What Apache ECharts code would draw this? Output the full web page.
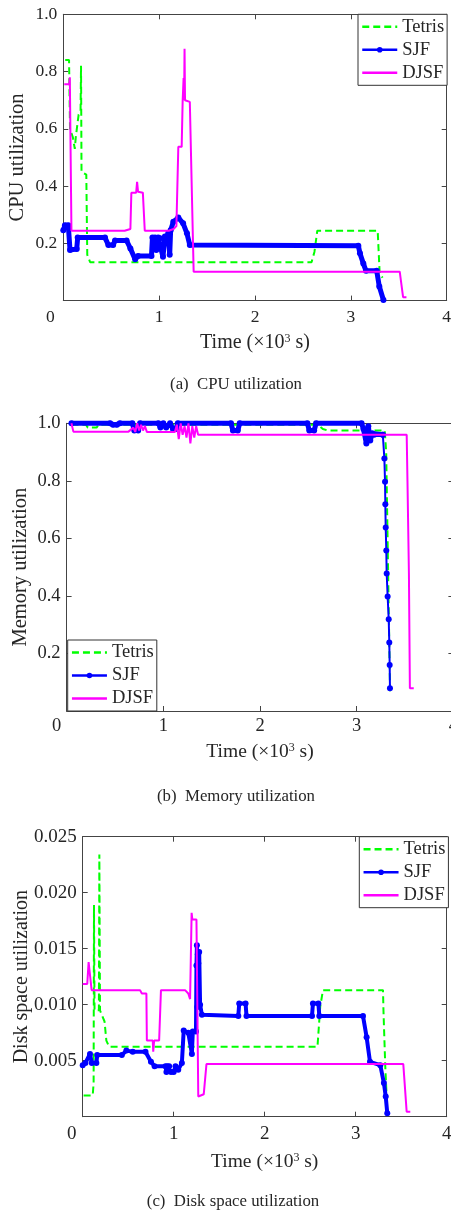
<!DOCTYPE html>
<html><head><meta charset="utf-8">
<script src="https://cdn.jsdelivr.net/npm/echarts@6/dist/echarts.min.js"></script>
<style>html,body{margin:0;padding:0;background:#fff}#c{width:451px;height:1213px}</style>
</head><body><div id="c"></div>
<script>
// ---------- data (time in 10^3 s) ----------
const seriesNames = ['Tetris', 'SJF', 'DJSF'];
const xTickValues = [0, 1, 2, 3, 4];
const captions = ['(a)  CPU utilization', '(b)  Memory utilization', '(c)  Disk space utilization'];
const yTitles = ['CPU utilization', 'Memory utilization', 'Disk space utilization'];

// (a) CPU
const tetrisCpuT = [0.02,0.06,0.07,0.10,0.12,0.13,0.16,0.18,0.185,0.19,0.24,0.25,0.28,2.59,2.62,2.65,3.28,3.30,3.33];
const tetrisCpuV = [0.84,0.84,0.60,0.57,0.53,0.57,0.65,0.66,0.82,0.45,0.44,0.16,0.134,0.134,0.17,0.244,0.244,0.10,0.08];
const sjfCpuT = [0.0,0.017,0.052,0.07,0.14,0.15,0.435,0.47,0.52,0.54,0.66,0.70,0.75,0.78,0.92,0.93,0.957,0.97,0.99,1.01,1.04,1.06,1.08,1.095,1.11,1.12,1.148,1.20,1.25,1.29,1.32,3.078,3.095,3.13,3.158,3.27,3.297,3.34];
const sjfCpuV = [0.246,0.263,0.263,0.177,0.18,0.22,0.22,0.194,0.194,0.21,0.21,0.182,0.144,0.156,0.156,0.22,0.22,0.177,0.22,0.218,0.153,0.224,0.20,0.235,0.16,0.246,0.275,0.29,0.27,0.235,0.194,0.192,0.165,0.13,0.104,0.104,0.049,0.002];
const djsfCpuT = [0.01,0.062,0.068,0.075,0.085,0.64,0.66,0.70,0.71,0.76,0.77,0.78,0.83,0.85,1.10,1.15,1.18,1.20,1.235,1.245,1.25,1.255,1.26,1.265,1.27,1.32,1.36,3.51,3.545,3.58];
const djsfCpuV = [0.756,0.756,0.78,0.78,0.244,0.244,0.25,0.25,0.377,0.377,0.415,0.38,0.377,0.244,0.244,0.25,0.26,0.537,0.537,0.694,0.694,0.777,0.70,0.88,0.70,0.694,0.101,0.101,0.012,0.012];

// (b) Memory
const tetrisMemT = [0.05,0.20,0.22,0.31,0.33,2.60,2.65,2.70,3.29,3.305,3.345];
const tetrisMemV = [0.995,0.995,0.985,0.985,0.995,0.995,0.98,0.975,0.975,0.90,0.067];
const sjfMemT = [0.05,0.45,0.48,0.52,0.55,0.68,0.70,0.74,0.76,0.95,0.97,1.0,1.03,1.07,1.10,1.13,1.15,1.70,1.72,1.77,1.79,2.49,2.51,2.56,2.58,3.05,3.07,3.10,3.12,3.14,3.16,3.18,3.27,3.286,3.293,3.296,3.300,3.306,3.310,3.320,3.331,3.337,3.341,3.344];
const sjfMemV = [1.0,1.0,0.995,0.995,1.0,1.0,0.975,0.975,1.0,1.0,0.985,1.0,0.985,1.0,0.98,0.98,1.0,1.0,0.975,0.975,1.0,1.0,0.975,0.975,1.0,1.0,0.98,0.93,0.99,0.94,0.965,0.96,0.96,0.878,0.797,0.719,0.638,0.558,0.478,0.398,0.319,0.238,0.160,0.079];
const sjfMemThickCount = 33; // samples drawn with the dense band style
const djsfMemT = [0.05,0.065,0.07,0.64,0.66,0.69,0.71,0.73,0.75,0.77,0.79,0.81,0.83,0.84,1.12,1.14,1.16,1.18,1.20,1.22,1.24,1.26,1.28,1.30,1.32,1.34,1.36,1.37,3.517,3.525,3.54,3.55,3.59];
const djsfMemV = [1.0,1.0,0.971,0.971,0.97,0.985,0.97,1.0,0.975,0.995,0.975,0.99,0.97,0.97,0.97,0.995,0.945,1.0,0.96,0.99,0.95,1.0,0.93,0.99,0.95,0.99,0.96,0.96,0.96,0.80,0.478,0.079,0.079];

// (c) Disk
const tetrisDiskT = [0.01,0.11,0.12,0.124,0.13,0.178,0.183,0.19,0.24,0.26,0.29,2.58,2.61,2.64,3.30,3.305,3.315,3.325,3.34];
const tetrisDiskV = [0.0019,0.0019,0.003,0.0189,0.0095,0.0095,0.0234,0.0095,0.0085,0.0068,0.00625,0.00625,0.0098,0.0113,0.0113,0.0095,0.0070,0.0045,0.0018];
const sjfDiskT = [0.0,0.03,0.08,0.10,0.15,0.16,0.43,0.48,0.55,0.69,0.75,0.79,0.91,0.92,0.93,0.95,0.97,1.0,1.02,1.05,1.09,1.11,1.16,1.20,1.21,1.245,1.25,1.255,1.26,1.265,1.27,1.28,1.29,1.31,1.71,1.72,1.79,1.80,2.52,2.53,2.59,2.60,3.08,3.12,3.157,3.27,3.31,3.33,3.347];
const sjfDiskV = [0.0046,0.0048,0.0056,0.0048,0.0048,0.0055,0.0055,0.0059,0.0058,0.0058,0.0049,0.0045,0.0045,0.0040,0.0045,0.0045,0.0040,0.0040,0.0045,0.0042,0.0048,0.0077,0.0075,0.0056,0.0076,0.0076,0.0135,0.0153,0.0098,0.0145,0.0137,0.0147,0.0100,0.0091,0.0090,0.0101,0.0101,0.0090,0.0090,0.0101,0.0101,0.0090,0.0090,0.0071,0.0049,0.0046,0.0030,0.0018,0.0003];
const djsfDiskT = [0.0,0.05,0.065,0.07,0.098,0.63,0.65,0.70,0.705,0.72,0.77,0.775,0.785,0.84,0.86,1.125,1.16,1.18,1.197,1.205,1.25,1.27,1.28,1.33,1.36,3.523,3.56,3.6];
const djsfDiskV = [0.01185,0.01185,0.0138,0.0138,0.0113,0.0113,0.0110,0.0110,0.0068,0.0068,0.0068,0.0058,0.0068,0.0068,0.0113,0.0113,0.0110,0.0105,0.0182,0.0176,0.0176,0.0018,0.0018,0.0020,0.0047,0.0047,0.00045,0.00045];

// ---------- build ----------
const zip = (t, v) => t.map((x, i) => [x, v[i]]);
const FONT = "'Liberation Serif', 'Times New Roman', serif";
const TXT = '#262626';
const AX = '#444';
const GREEN = '#00ff00', BLUE = '#0000ff', MAG = '#ff00ff';

const panels = [
  {grid:{left:63.3, top:14.3, width:383.4, height:286.3}, yMax:1, yInt:0.2, dec:1, tick:17.5, title:20, yTitle:20.5, xGap:32, yGap:35, lblMargin:8, zeroShift:13,
   legend:{left:358, top:14.3}, caption:{x:236, y:385}},
  {grid:{left:66.6, top:423.3, width:386.8, height:287.7}, yMax:1, yInt:0.2, dec:1, tick:18.5, title:19.5, yTitle:20.5, xGap:31, yGap:35.5, lblMargin:6, zeroShift:10,
   legend:{left:67.7, top:640}, caption:{x:236, y:796.7}},
  {grid:{left:82.7, top:836.7, width:364, height:280}, yMax:0.025, yInt:0.005, dec:3, tick:19, title:19.5, yTitle:20, xGap:35, yGap:51, lblMargin:8, zeroShift:11,
   legend:{left:359.3, top:836.7}, caption:{x:233, y:1201.7}}
];

const grids = [], xAxes = [], yAxes = [], series = [], legends = [], graphics = [];
const axisCommon = () => ({
  axisLine:{show:true, onZero:false, lineStyle:{color:AX, width:1}},
  axisTick:{show:true, inside:true, length:5, lineStyle:{color:AX, width:1}},
  splitLine:{show:false}
});

panels.forEach((p, i) => {
  grids.push(Object.assign({containLabel:false, outerBoundsMode:'none'}, p.grid));
  xAxes.push(Object.assign(axisCommon(), {
    gridIndex:i, type:'value', min:0, max:4, interval:1, position:'bottom',
    axisLabel:{fontFamily:FONT, fontSize:p.tick, color:TXT, margin:p.lblMargin, hideOverlap:false,
      formatter: v => v === 0 ? '{z|0}' : String(v),
      rich:{z:{fontFamily:FONT, fontSize:p.tick, color:TXT, padding:[0, 2*p.zeroShift, 0, 0]}}},
    name:'Time (×10{sup|3} s)', nameLocation:'middle', nameGap:p.xGap, nameMoveOverlap:false,
    nameTextStyle:{fontFamily:FONT, fontSize:p.title, color:TXT,
      rich:{sup:{fontFamily:FONT, fontSize:Math.round(p.title*0.62), color:TXT, verticalAlign:'top'}}}
  }));
  xAxes.push(Object.assign(axisCommon(), {
    gridIndex:i, type:'value', min:0, max:4, interval:1, position:'top', axisLabel:{show:false}
  }));
  yAxes.push(Object.assign(axisCommon(), {
    gridIndex:i, type:'value', min:0, max:p.yMax, interval:p.yInt, position:'left',
    axisLabel:{fontFamily:FONT, fontSize:p.tick, color:TXT, margin:6, showMinLabel:false,
      formatter: v => v.toFixed(p.dec)},
    name:yTitles[i], nameLocation:'middle', nameGap:p.yGap, nameMoveOverlap:false,
    nameTextStyle:{fontFamily:FONT, fontSize:p.yTitle, color:TXT}
  }));
  yAxes.push(Object.assign(axisCommon(), {
    gridIndex:i, type:'value', min:0, max:p.yMax, interval:p.yInt, position:'right', axisLabel:{show:false}
  }));
  legends.push({
    left:p.legend.left, top:p.legend.top, orient:'vertical', itemWidth:35, itemHeight:7, itemGap:4,
    padding:[3,3,3,3], borderColor:'#333', borderWidth:1, backgroundColor:'#fff',
    textStyle:{fontFamily:FONT, fontSize:18.5, color:TXT},
    lineStyle:{width:2.5}, selectedMode:false,
    data:seriesNames.map(n => n === 'SJF' ? {name:n} : {name:n, itemStyle:{opacity:0}})
  });
  graphics.push({type:'text', x:p.caption.x, y:p.caption.y, style:{text:captions[i], fontFamily:FONT, fontSize:16.8, fill:TXT, textAlign:'center', textVerticalAlign:'middle'}});
});

const tetrisStyle = (i, data) => ({type:'line', name:'Tetris', xAxisIndex:2*i, yAxisIndex:2*i, data, symbol:'none', clip:false,
  lineStyle:{color:GREEN, width:2, type:[7,4]}, itemStyle:{color:GREEN}, z:2});
const sjfStyle = (i, data, w, s) => ({type:'line', name:'SJF', xAxisIndex:2*i, yAxisIndex:2*i, data, symbol:'circle', symbolSize:s,
  showSymbol:true, showAllSymbol:true, clip:false, lineStyle:{color:BLUE, width:w}, itemStyle:{color:BLUE}, z:3});
const djsfStyle = (i, data) => ({type:'line', name:'DJSF', xAxisIndex:2*i, yAxisIndex:2*i, data, symbol:'none', clip:false,
  lineStyle:{color:MAG, width:2}, itemStyle:{color:MAG}, z:4});

series.push(tetrisStyle(0, zip(tetrisCpuT, tetrisCpuV)));
series.push(sjfStyle(0, zip(sjfCpuT, sjfCpuV), 5, 6));
series.push(djsfStyle(0, zip(djsfCpuT, djsfCpuV)));

const sjfMem = zip(sjfMemT, sjfMemV);
series.push(tetrisStyle(1, zip(tetrisMemT, tetrisMemV)));
series.push(sjfStyle(1, sjfMem.slice(0, sjfMemThickCount), 5, 6));
series.push(sjfStyle(1, sjfMem.slice(sjfMemThickCount - 1), 2, 6));
series.push(djsfStyle(1, zip(djsfMemT, djsfMemV)));

series.push(tetrisStyle(2, zip(tetrisDiskT, tetrisDiskV)));
series.push(sjfStyle(2, zip(sjfDiskT, sjfDiskV), 4, 6));
series.push(djsfStyle(2, zip(djsfDiskT, djsfDiskV)));

const chart = echarts.init(document.getElementById('c'), null, {renderer:'canvas'});
chart.setOption({
  animation:false, backgroundColor:'#fff',
  grid:grids, xAxis:xAxes, yAxis:yAxes, legend:legends, series, graphic:graphics
});
</script></body></html>
